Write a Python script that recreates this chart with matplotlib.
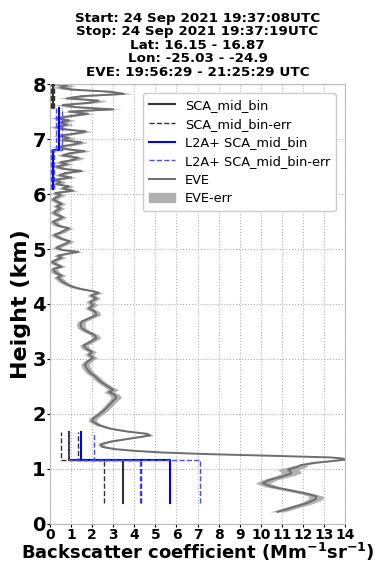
import numpy as np
import matplotlib
matplotlib.use("Agg")
import matplotlib.pyplot as plt
from matplotlib.patches import Patch

# ---------------- data ----------------
title_lines = ["Start: 24 Sep 2021 19:37:08UTC",
               "Stop: 24 Sep 2021 19:37:19UTC",
               "Lat: 16.15 - 16.87",
               "Lon: -25.03 - -24.9",
               "EVE: 19:56:29 - 21:25:29 UTC"]

# SCA mid-bin (bins: bottom/top heights in km)
sca_bottom = [0.39, 1.16, 7.56]
sca_top = [1.16, 1.67, 8.00]
sca_val = [3.45, 0.92, 0.12]
sca_err = [0.88, 0.40, 0.06]

# L2A+ SCA mid-bin
l2a_bottom = [0.39, 1.16, 6.10, 6.80]
l2a_top = [1.16, 1.67, 6.80, 7.56]
l2a_val = [5.68, 1.49, 0.12, 0.42]
l2a_err = [1.42, 0.61, 0.08, 0.14]

# EVE profile
eve_h = [0.22, 0.30, 0.38, 0.45, 0.50, 0.55, 0.62, 0.68, 0.74, 0.80, 0.86, 0.92, 0.96,
         0.99, 1.03, 1.07, 1.11, 1.14, 1.17, 1.19, 1.21, 1.24, 1.27, 1.30, 1.33, 1.36,
         1.40, 1.45, 1.50, 1.56, 1.61, 1.64, 1.68, 1.73, 1.80, 1.87, 1.92, 2.00, 2.08,
         2.16, 2.24, 2.30, 2.35, 2.40, 2.44, 2.50, 2.56, 2.62,
         2.68, 2.75, 2.82, 2.90, 2.96, 3.02, 3.08, 3.13, 3.19, 3.25, 3.31, 3.38, 3.44,
         3.50, 3.56, 3.62, 3.68, 3.74, 3.80, 3.86, 3.92, 3.98, 4.04, 4.10, 4.16, 4.20,
         4.23, 4.27, 4.31, 4.36, 4.40,
         4.44, 4.48, 4.52, 4.56, 4.60, 4.64, 4.68, 4.72, 4.76, 4.80, 4.84, 4.88, 4.92,
         4.95, 4.98, 5.02, 5.06, 5.10, 5.14, 5.18, 5.22, 5.26, 5.30, 5.34, 5.38, 5.42,
         5.46, 5.50, 5.54, 5.58, 5.62, 5.66, 5.70, 5.74, 5.78, 5.82, 5.86, 5.90, 5.94,
         5.98, 6.02, 6.06, 6.10, 6.14, 6.18, 6.22, 6.26, 6.30, 6.34, 6.38, 6.42, 6.46,
         6.50, 6.54, 6.58, 6.62, 6.66, 6.70, 6.74, 6.78, 6.82, 6.86, 6.90, 6.94, 6.98,
         7.02, 7.06, 7.10, 7.14, 7.18, 7.22, 7.26, 7.30, 7.34, 7.38, 7.42, 7.46, 7.50,
         7.54, 7.58, 7.62, 7.66, 7.70, 7.74, 7.78, 7.82, 7.86, 7.90, 7.94, 7.97, 8.00]
eve_x = [10.8, 11.5, 12.2, 12.6, 12.65, 12.2, 11.3, 10.5, 10.1, 10.4, 11.0, 11.45, 11.4,
         11.3, 11.7, 11.9, 12.5, 13.3, 14.0, 13.9, 13.3, 10.5, 7.5, 5.3, 4.0, 3.1,
         2.5, 2.4, 2.9, 3.9, 4.75, 4.6, 3.7, 2.9, 2.3, 2.0, 2.05, 2.35, 2.6,
         2.8, 3.0, 3.15, 3.05, 2.8, 3.0, 2.75, 2.5, 2.3,
         2.15, 1.9, 1.75, 1.65, 1.8, 2.05, 1.85, 2.0, 1.7, 1.6, 1.9, 2.2, 2.1,
         1.75, 1.5, 1.45, 1.5, 1.85, 2.2, 2.15, 1.85, 2.05, 1.9, 2.2, 1.95, 2.3,
         2.1, 1.5, 1.1, 0.8, 0.6,
         0.5, 0.35, 0.55, 0.3, 0.2, 0.15, 0.55, 0.3, 0.1, 0.25, 0.55, 0.35, 0.9,
         1.35, 0.6, 0.3, 0.5, 0.75, 0.95, 0.6, 0.35, 0.2, 0.5, 0.7, 0.9, 0.4,
         0.25, 0.15, 0.4, 0.6, 0.35, 0.2, 0.3, 0.5, 0.3, 0.55, 0.35, 0.15, 0.3,
         0.5, 0.25, 1.1, 0.6, 0.9, 0.3, 0.5, 0.2, 1.0, 0.45, 0.7, 1.5, 0.6,
         0.3, 0.8, 0.5, 1.1, 1.35, 0.6, 0.9, 1.65, 0.7, 0.4, 1.1, 1.5, 0.6,
         0.9, 0.4, 1.2, 1.7, 0.6, 0.3, 0.8, 0.5, 0.9, 0.3, 1.0, 1.8, 0.9,
         3.0, 1.2, 0.6, 1.9, 2.3, 0.8, 1.5, 3.5, 2.9, 1.0, 0.5, 0.8, 0.3]
eve_err = [0.35, 0.35, 0.35, 0.35, 0.35, 0.35, 0.35, 0.35, 0.35, 0.35, 0.4, 0.45, 0.5,
           0.5, 0.45, 0.3, 0.2, 0.15, 0.1, 0.1, 0.1, 0.1, 0.1, 0.1, 0.1, 0.12,
           0.15, 0.15, 0.15, 0.15, 0.15, 0.15, 0.15, 0.15, 0.18, 0.2, 0.2, 0.2, 0.2,
           0.2, 0.2, 0.25, 0.25, 0.25, 0.25, 0.2, 0.2, 0.2,
           0.2, 0.2, 0.2, 0.2, 0.2, 0.2, 0.2, 0.2, 0.2, 0.2, 0.2, 0.2, 0.2,
           0.2, 0.2, 0.2, 0.2, 0.2, 0.2, 0.2, 0.2, 0.2, 0.2, 0.2, 0.2, 0.2,
           0.2, 0.2, 0.2, 0.2, 0.2,
           0.2, 0.2, 0.2, 0.2, 0.2, 0.2, 0.2, 0.2, 0.2, 0.2, 0.2, 0.2, 0.2,
           0.2, 0.2, 0.2, 0.2, 0.2, 0.2, 0.2, 0.2, 0.2, 0.2, 0.2, 0.2, 0.2,
           0.2, 0.2, 0.2, 0.2, 0.2, 0.2, 0.2, 0.2, 0.2, 0.2, 0.2, 0.2, 0.2,
           0.25, 0.25, 0.25, 0.25, 0.25, 0.25, 0.25, 0.25, 0.25, 0.25, 0.25, 0.25, 0.25,
           0.3, 0.3, 0.3, 0.3, 0.3, 0.3, 0.3, 0.3, 0.3, 0.3, 0.3, 0.3, 0.3,
           0.3, 0.3, 0.3, 0.3, 0.3, 0.3, 0.3, 0.3, 0.3, 0.3, 0.3, 0.3, 0.3,
           0.4, 0.4, 0.4, 0.4, 0.4, 0.4, 0.4, 0.4, 0.4, 0.4, 0.4, 0.4, 0.4]

x_ticks = list(range(0, 15))
y_ticks = list(range(0, 9))


def step_xy(bottom, top, val):
    xs, ys = [], []
    for b, t, v in zip(bottom, top, val):
        if xs and abs(ys[-1] - b) > 1e-6:
            xs.append(np.nan); ys.append(np.nan)
        xs += [v, v]
        ys += [b, t]
    return np.array(xs), np.array(ys)


fig = plt.figure(figsize=(3.85, 5.64), dpi=100)
ax = fig.add_axes([0.13, 0.071, 0.766, 0.78])

h = np.array(eve_h); xv = np.array(eve_x); er = np.array(eve_err)
ax.fill_betweenx(h, xv - er, xv + er, color="#b0b0b0", lw=0, zorder=1)
l_eve, = ax.plot(xv, h, color="#6e6e6e", lw=1.4, label="EVE", zorder=2)

sv = np.array(sca_val); se = np.array(sca_err)
x, y = step_xy(sca_bottom, sca_top, sv)
l_sca, = ax.plot(x, y, color="#333333", lw=1.5, label="SCA_mid_bin", zorder=3)
x, y = step_xy(sca_bottom, sca_top, sv - se)
l_scae, = ax.plot(x, y, color="#333333", lw=1.0, ls="--", label="SCA_mid_bin-err", zorder=3)
x, y = step_xy(sca_bottom, sca_top, sv + se)
ax.plot(x, y, color="#333333", lw=1.0, ls="--", zorder=3)

lv = np.array(l2a_val); le = np.array(l2a_err)
x, y = step_xy(l2a_bottom, l2a_top, lv)
l_l2, = ax.plot(x, y, color="#0000ff", lw=1.5, label="L2A+ SCA_mid_bin", zorder=4)
x, y = step_xy(l2a_bottom, l2a_top, lv - le)
l_l2e, = ax.plot(x, y, color="#4b4bff", lw=1.0, ls="--", label="L2A+ SCA_mid_bin-err", zorder=4)
x, y = step_xy(l2a_bottom, l2a_top, lv + le)
ax.plot(x, y, color="#4b4bff", lw=1.0, ls="--", zorder=4)

ax.set_xlim(0, 14)
ax.set_ylim(0, 8)
ax.set_xticks(x_ticks)
ax.set_yticks(y_ticks)
ax.grid(True, ls=":", color="#b0b0b0", lw=0.8)
ax.tick_params(axis="x", labelsize=10, pad=1, length=2)
ax.tick_params(axis="y", labelsize=14, pad=1, length=2)
for t in ax.get_xticklabels() + ax.get_yticklabels():
    t.set_fontweight("bold")
for s in ax.spines.values():
    s.set_color("#bbbbbb")

ax.set_ylabel("Height (km)", fontsize=16, fontweight="bold", labelpad=1)
ax.set_xlabel("Backscatter coefficient (Mm$^{\\mathbf{-1}}$sr$^{\\mathbf{-1}}$)",
              fontsize=13, fontweight="bold", labelpad=-1)
ax.set_title("\n".join(title_lines), fontsize=9.7, fontweight="bold", linespacing=1.05, pad=6)

handles = [l_sca, l_scae, l_l2, l_l2e, l_eve, Patch(color="#b0b0b0", label="EVE-err")]
ax.legend(handles=handles, loc="upper right", fontsize=9.3, framealpha=1,
          handlelength=2.0, borderpad=0.45, labelspacing=0.44, borderaxespad=0.7)

fig.savefig("out.png", dpi=100)
